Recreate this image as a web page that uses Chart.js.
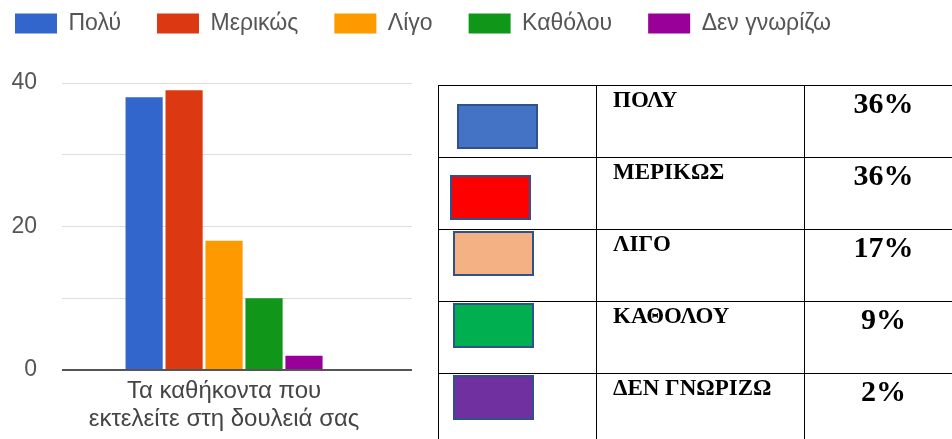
<!DOCTYPE html>
<html>
<head>
<meta charset="utf-8">
<script src="https://cdn.jsdelivr.net/npm/chart.js@4"></script>
<style>
html, body { margin: 0; padding: 0; background: #fff; }
body { width: 952px; height: 439px; overflow: hidden; position: relative; }
#wrap { position: absolute; left: -21px; top: -24px; width: 973px; height: 463px; }
#tbl { position: absolute; left: 438px; top: 85px; width: 524px; border-collapse: collapse; table-layout: fixed;
       font-family: "Liberation Serif", "Times New Roman", serif; font-weight: bold; color: #000; }
#tbl td { border: 1.5px solid #000; height: 72px; padding: 0; vertical-align: top; position: relative; box-sizing: border-box; }
#tbl .sw { position: absolute; width: 77px; height: 41px; border: 2.5px solid #2f528f; }
#tbl .lab { font-size: 23px; padding: 1px 0 0 16px; }
#tbl .pct { font-size: 30px; text-align: center; padding-top: 0; }
</style>
</head>
<body>
<div id="wrap"><canvas id="chart" width="973" height="463"></canvas></div>
<table id="tbl">
  <colgroup><col style="width:158px"><col style="width:208px"><col style="width:158px"></colgroup>
  <tbody id="rows"></tbody>
</table>
<script>
// chart data
const category = ['Τα καθήκοντα που', 'εκτελείτε στη δουλειά σας'];
const seriesNames = ['Πολύ', 'Μερικώς', 'Λίγο', 'Καθόλου', 'Δεν γνωρίζω'];
const seriesValues = [38, 39, 18, 10, 2];
const seriesColors = ['#3366cc', '#dc3912', '#ff9900', '#109618', '#990099'];
const yTicks = [0, 10, 20, 30, 40];
const yLabels = [0, 20, 40];

// table data
const tableLabels = ['ΠΟΛΥ', 'ΜΕΡΙΚΩΣ', 'ΛΙΓΟ', 'ΚΑΘΟΛΟΥ', 'ΔΕΝ ΓΝΩΡΙΖΩ'];
const tablePercents = ['36%', '36%', '17%', '9%', '2%'];
const tableSwatches = ['#4472c4', '#ff0000', '#f4b183', '#00b050', '#7030a0'];
// where each swatch sits inside its cell (left, top)
const swatchOffsets = [[18, 18], [11, 17], [14, 1], [14, 1], [14, 1]];

const font = 'Arial, "Liberation Sans", sans-serif';

const rows = document.getElementById('rows');
tableLabels.forEach((lab, i) => {
  const tr = document.createElement('tr');
  const [sx, sy] = swatchOffsets[i];
  tr.innerHTML =
    '<td><div class="sw" style="left:' + sx + 'px;top:' + sy + 'px;background:' + tableSwatches[i] + '"></div></td>' +
    '<td class="lab">' + lab + '</td>' +
    '<td class="pct">' + tablePercents[i] + '</td>';
  rows.appendChild(tr);
});

// single category at index 0 on a numeric axis, so the group can sit left of centre like the original
const chartData = {
  datasets: seriesNames.map((name, i) => ({
    label: name,
    data: [{ x: 0, y: seriesValues[i] }],
    backgroundColor: seriesColors[i],
    borderWidth: 0,
    categoryPercentage: 0.571,
    barPercentage: 0.93
  }))
};

const xMin = -0.463, xMax = 0.537, yMax = 45.3;

const chart = new Chart(document.getElementById('chart'), {
  type: 'bar',
  data: chartData,
  options: {
    responsive: false,
    animation: false,
    devicePixelRatio: 1,
    layout: { padding: 0 },
    plugins: {
      tooltip: { enabled: false },
      legend: {
        position: 'top',
        align: 'start',
        labels: {
          boxWidth: 42,
          boxHeight: 20,
          padding: 36,
          color: '#555',
          font: { family: font, size: 23 }
        }
      }
    },
    scales: {
      x: {
        type: 'linear',
        offset: false,
        bounds: 'data',
        min: xMin,
        max: xMax,
        afterBuildTicks: s => { s.ticks = [{ value: 0 }]; s.min = xMin; s.max = xMax; },
        grid: { display: false, drawTicks: false },
        border: { display: false },
        ticks: {
          color: '#444',
          font: { family: font, size: 24, lineHeight: 1.17 },
          padding: 7,
          maxRotation: 0,
          callback: () => category
        },
        afterFit: s => { s.height = 69; }
      },
      y: {
        min: 0,
        max: yMax,
        bounds: 'data',
        afterBuildTicks: s => { s.ticks = yTicks.map(v => ({ value: v })); s.min = 0; s.max = yMax; },
        border: { display: false },
        grid: {
          drawTicks: false,
          color: c => c.tick && c.tick.value === 0 ? '#555' : '#ddd',
          lineWidth: c => c.tick && c.tick.value === 0 ? 2 : 1
        },
        ticks: {
          color: '#555',
          font: { family: font, size: 23 },
          padding: 25,
          callback: v => yLabels.includes(v) ? String(v) : ''
        },
        afterFit: s => { s.width = 83; }
      },
      y2: {
        position: 'right',
        grid: { display: false },
        border: { display: false },
        ticks: { display: false },
        afterFit: s => { s.width = 540; }
      }
    }
  }
});
</script>
</body>
</html>
